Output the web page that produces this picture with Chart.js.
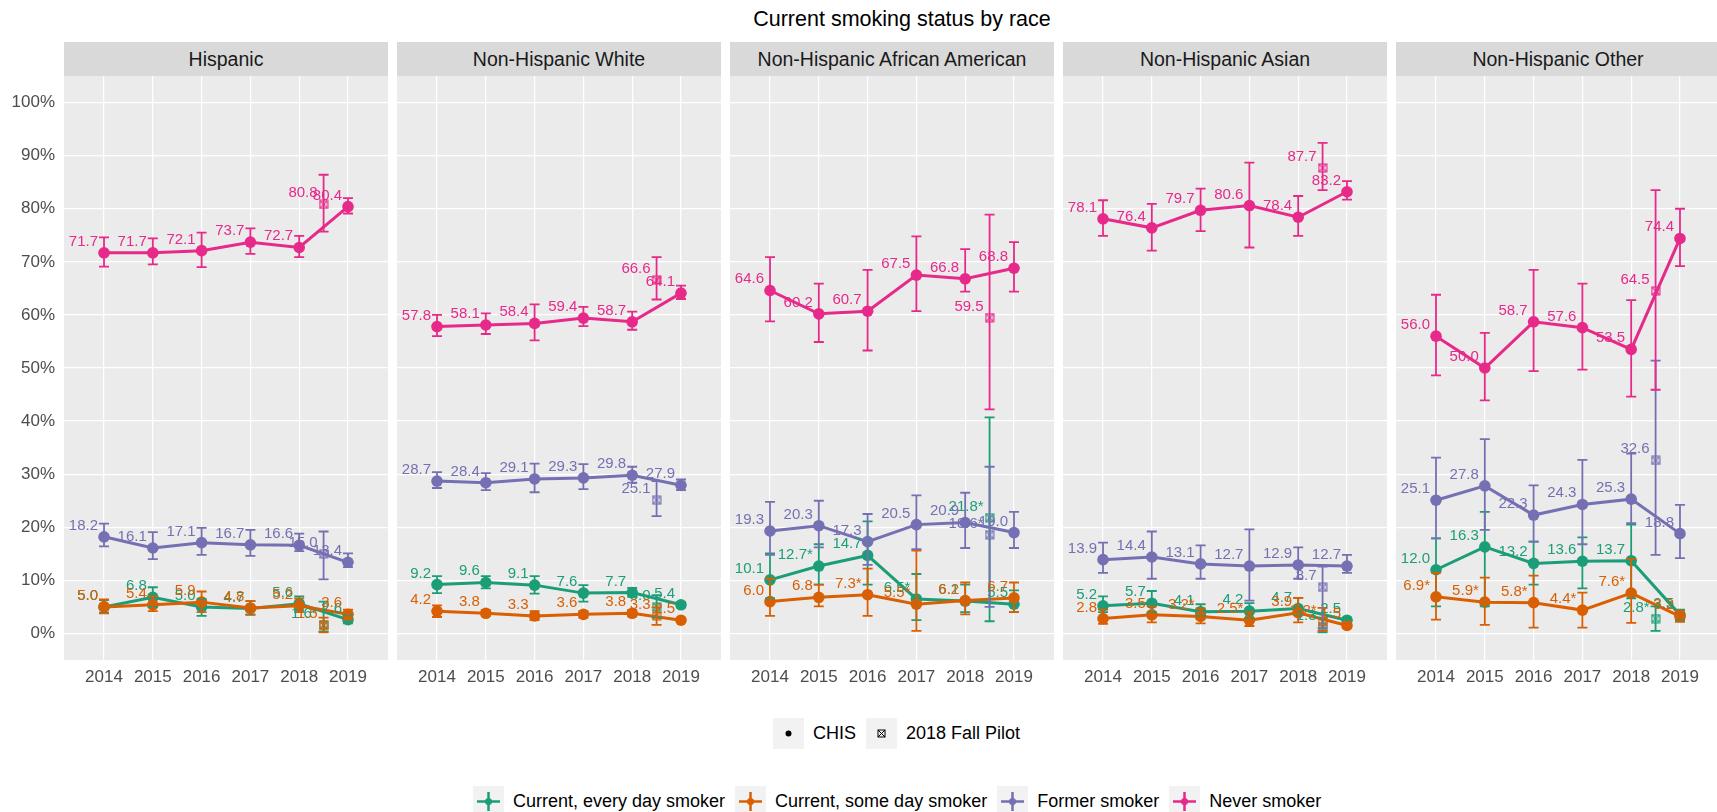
<!DOCTYPE html>
<html>
<head>
<meta charset="utf-8">
<title>Current smoking status by race</title>
<script src="https://cdn.jsdelivr.net/npm/chart.js@4.4.1/dist/chart.umd.min.js"></script>
<style>
  html, body { margin: 0; padding: 0; background: #fff; width: 1717px; height: 812px; overflow: hidden;
    font-family: "Liberation Sans", Arial, sans-serif; }
  #title { position: absolute; left: 402px; width: 1000px; top: 7px; text-align: center; font-size: 21.5px; color: #000; }
  .strip { position: absolute; top: 42px; height: 34px; width: 324px; background: #D9D9D9; color: #1A1A1A;
    font-size: 19.5px; line-height: 34px; text-align: center; white-space: nowrap; }
  .panel { position: absolute; top: 76px; height: 624px; }
  .legend { position: absolute; display: flex; align-items: center; font-size: 18px; color: #000; white-space: nowrap; }
  .key { width: 31px; height: 31px; background: #F2F2F2; margin-right: 9px; display: block; }
  .legend span.txt { margin-right: 10px; }
</style>
</head>
<body>
<div id="title">Current smoking status by race</div>
<div id="panels"></div>

<div class="legend" id="surveyLegend" style="left:773px; top:718px;"></div>
<div class="legend" id="statusLegend" style="left:473px; top:786px;"></div>

<script>
// ---- categories ----
const years = [2014, 2015, 2016, 2017, 2018, 2019];
const pilotYear = 2018.5;
const races = ['Hispanic', 'Non-Hispanic White', 'Non-Hispanic African American', 'Non-Hispanic Asian', 'Non-Hispanic Other'];
const statuses = ['Current, every day smoker', 'Current, some day smoker', 'Former smoker', 'Never smoker'];
const surveys = ['CHIS', '2018 Fall Pilot'];
const yTicks = [0, 10, 20, 30, 40, 50, 60, 70, 80, 90, 100];

// ---- estimates (%) : one row per status, one column per year ----
// star flag = estimate marked with an asterisk
const hispanicEst  = [[5.0, 6.8, 5.0, 4.7, 5.6, 2.6], [5.0, 5.4, 5.9, 4.8, 5.2, 3.6], [18.2, 16.1, 17.1, 16.7, 16.6, 13.4], [71.7, 71.7, 72.1, 73.7, 72.7, 80.4]];
const hispanicLow  = [[3.9, 5.0, 3.3, 3.5, 4.3, 1.9], [3.8, 4.2, 4.0, 3.6, 4.0, 2.6], [16.4, 14.0, 14.8, 14.6, 15.5, 12.5], [69.1, 69.5, 69.0, 71.5, 70.9, 79.1]];
const hispanicHigh = [[6.3, 8.7, 6.5, 6.1, 7.0, 3.4], [6.4, 7.0, 7.9, 6.1, 6.6, 4.5], [20.7, 19.1, 19.9, 19.5, 18.8, 15.1], [74.6, 74.4, 75.5, 76.3, 74.9, 82.0]];
const hispanicStar = [[0, 0, 0, 0, 0, 0], [0, 0, 0, 0, 0, 0], [0, 0, 0, 0, 0, 0], [0, 0, 0, 0, 0, 0]];
const hispanicPilot     = [1.6, 1.5, 15.0, 80.8];
const hispanicPilotLow  = [0.4, 0.2, 10.2, 75.7];
const hispanicPilotHigh = [6.0, 3.0, 19.2, 86.4];
const hispanicPilotStar = [1, 0, 0, 0];

const whiteEst  = [[9.2, 9.6, 9.1, 7.6, 7.7, 5.4], [4.2, 3.8, 3.3, 3.6, 3.8, 2.5], [28.7, 28.4, 29.1, 29.3, 29.8, 27.9], [57.8, 58.1, 58.4, 59.4, 58.7, 64.1]];
const whiteLow  = [[7.6, 8.5, 7.5, 6.0, 6.9, 4.9], [3.1, 3.3, 2.5, 3.0, 3.2, 2.1], [27.4, 27.0, 26.6, 27.2, 28.4, 27.0], [56.0, 56.4, 55.2, 57.9, 57.2, 63.0]];
const whiteHigh = [[10.8, 10.8, 10.8, 9.1, 8.6, 5.9], [5.3, 4.4, 4.2, 4.2, 4.4, 2.9], [30.4, 30.2, 32.0, 31.9, 31.4, 29.0], [60.0, 60.3, 62.0, 61.5, 60.6, 65.5]];
const whiteStar = [[0, 0, 0, 0, 0, 0], [0, 0, 0, 0, 0, 0], [0, 0, 0, 0, 0, 0], [0, 0, 0, 0, 0, 0]];
const whitePilot     = [5.0, 3.3, 25.1, 66.6];
const whitePilotLow  = [3.0, 1.6, 22.1, 62.9];
const whitePilotHigh = [7.2, 4.9, 28.7, 70.9];
const whitePilotStar = [0, 0, 0, 0];

const blackEst  = [[10.1, 12.7, 14.7, 6.5, 6.1, 5.5], [6.0, 6.8, 7.3, 5.5, 6.2, 6.7], [19.3, 20.3, 17.3, 20.5, 20.9, 19.0], [64.6, 60.2, 60.7, 67.5, 66.8, 68.8]];
const blackLow  = [[6.6, 9.2, 9.2, 2.5, 4.0, 4.0], [3.3, 5.1, 3.3, 0.5, 3.6, 4.0], [14.8, 16.2, 12.9, 15.9, 16.1, 16.1], [58.8, 54.9, 53.3, 60.7, 64.4, 64.4]];
const blackHigh = [[15.1, 16.8, 21.1, 11.2, 9.2, 8.1], [10.3, 9.2, 12.2, 15.6, 9.6, 9.6], [24.8, 25.0, 22.5, 26.0, 26.5, 22.9], [70.9, 65.9, 68.5, 74.8, 72.4, 73.7]];
const blackStar = [[0, 1, 0, 1, 0, 0], [0, 0, 1, 1, 0, 0], [0, 0, 0, 0, 0, 0], [0, 0, 0, 0, 0, 0]];
const blackPilot     = [21.8, null, 18.6, 59.5];
const blackPilotLow  = [2.3, null, 5.0, 42.2];
const blackPilotHigh = [40.7, null, 31.4, 78.9];
const blackPilotStar = [1, 0, 1, 0];

const asianEst  = [[5.2, 5.7, 4.1, 4.2, 4.7, 2.5], [2.8, 3.5, 3.2, 2.5, 3.9, 1.5], [13.9, 14.4, 13.1, 12.7, 12.9, 12.7], [78.1, 76.4, 79.7, 80.6, 78.4, 83.2]];
const asianLow  = [[4.0, 4.0, 3.3, 2.9, 3.5, 2.0], [1.8, 2.1, 1.9, 1.4, 2.1, 1.0], [11.4, 10.3, 10.3, 6.2, 10.3, 11.4], [74.9, 72.1, 75.8, 72.7, 74.9, 81.7]];
const asianHigh = [[7.0, 8.0, 5.5, 5.7, 6.7, 3.0], [4.5, 5.1, 4.7, 4.0, 6.7, 2.0], [17.1, 19.2, 16.6, 19.6, 16.2, 14.8], [81.6, 80.9, 83.8, 88.7, 82.4, 85.2]];
const asianStar = [[0, 0, 0, 0, 0, 0], [0, 0, 1, 1, 0, 0], [0, 0, 0, 0, 0, 0], [0, 0, 0, 0, 0, 0]];
const asianPilot     = [1.3, 2.2, 8.7, 87.7];
const asianPilotLow  = [0.2, 0.5, 1.0, 83.5];
const asianPilotHigh = [3.0, 4.8, 12.6, 92.4];
const asianPilotStar = [0, 1, 0, 0];

const otherEst  = [[12.0, 16.3, 13.2, 13.6, 13.7, 3.5], [6.9, 5.9, 5.8, 4.4, 7.6, 3.2], [25.1, 27.8, 22.3, 24.3, 25.3, 18.8], [56.0, 50.0, 58.7, 57.6, 53.5, 74.4]];
const otherLow  = [[5.1, 5.1, 9.2, 8.5, 6.6, 2.5], [2.6, 1.6, 1.1, 1.1, 2.0, 2.2], [17.9, 19.5, 17.3, 16.8, 20.8, 14.2], [48.6, 43.9, 49.4, 49.7, 44.6, 69.2]];
const otherHigh = [[17.9, 22.9, 17.3, 18.1, 20.5, 4.5], [11.4, 10.5, 10.9, 7.7, 14.0, 4.3], [33.1, 36.6, 27.9, 32.7, 33.9, 24.2], [63.8, 56.6, 68.5, 65.9, 62.8, 80.0]];
const otherStar = [[0, 0, 0, 0, 0, 0], [1, 1, 1, 1, 1, 0], [0, 0, 0, 0, 0, 0], [0, 0, 0, 0, 0, 0]];
const otherPilot     = [2.8, null, 32.6, 64.5];
const otherPilotLow  = [0.5, null, 14.8, 45.9];
const otherPilotHigh = [5.1, null, 51.4, 83.5];
const otherPilotStar = [1, 0, 0, 0];

// ---- styling ----
const statusColors = ['#1B9E77', '#D95F02', '#7570B3', '#E7298A'];
const FONT = '"Liberation Sans", Arial, sans-serif';
const panelLefts = [64, 397, 730, 1063, 1396];
const panelWidth = 324;
const plotHeight = 584;
const axisHeight = 40;
const yAxisWidth = 64;

const panelSeries = [
  [hispanicEst, hispanicLow, hispanicHigh, hispanicStar, hispanicPilot, hispanicPilotLow, hispanicPilotHigh, hispanicPilotStar],
  [whiteEst, whiteLow, whiteHigh, whiteStar, whitePilot, whitePilotLow, whitePilotHigh, whitePilotStar],
  [blackEst, blackLow, blackHigh, blackStar, blackPilot, blackPilotLow, blackPilotHigh, blackPilotStar],
  [asianEst, asianLow, asianHigh, asianStar, asianPilot, asianPilotLow, asianPilotHigh, asianPilotStar],
  [otherEst, otherLow, otherHigh, otherStar, otherPilot, otherPilotLow, otherPilotHigh, otherPilotStar]
];

// square-with-cross glyph used for the pilot survey points
function squareCross(color, size, lw) {
  const c = document.createElement('canvas');
  c.width = size; c.height = size;
  const g = c.getContext('2d');
  g.strokeStyle = color; g.lineWidth = lw;
  const a = lw / 2 + 0.5, b = size - lw / 2 - 0.5;
  g.strokeRect(a, a, b - a, b - a);
  g.beginPath();
  g.moveTo(a, a); g.lineTo(b, b);
  g.moveTo(b, a); g.lineTo(a, b);
  g.stroke();
  return c;
}

// panel background
const panelBg = {
  id: 'panelBg',
  beforeDraw(chart) {
    const {ctx, chartArea: a} = chart;
    ctx.save();
    ctx.fillStyle = '#EBEBEB';
    ctx.fillRect(a.left, a.top, a.right - a.left, a.bottom - a.top);
    ctx.restore();
  }
};

// error bars and value labels, placed through the chart scales
const errorsAndLabels = {
  id: 'errorsAndLabels',
  afterDatasetsDraw(chart) {
    const ctx = chart.ctx;
    const xs = chart.scales.x, ys = chart.scales.y;
    const metas = chart.getSortedVisibleDatasetMetas().slice().reverse();
    ctx.save();
    ctx.lineWidth = 1.8;
    ctx.lineCap = 'butt';
    metas.forEach(meta => {
      const ds = chart.data.datasets[meta.index];
      ctx.strokeStyle = ds.borderColor;
      ds.data.forEach((d, j) => {
        const lo = ds.errLow[j], hi = ds.errHigh[j];
        if (lo == null || hi == null) return;
        const px = xs.getPixelForValue(d.x);
        const yl = ys.getPixelForValue(lo), yh = ys.getPixelForValue(hi);
        ctx.beginPath();
        ctx.moveTo(px, yl); ctx.lineTo(px, yh);
        ctx.moveTo(px - 5, yl); ctx.lineTo(px + 5, yl);
        ctx.moveTo(px - 5, yh); ctx.lineTo(px + 5, yh);
        ctx.stroke();
      });
    });
    ctx.font = '15px ' + FONT;
    ctx.textAlign = 'right';
    ctx.textBaseline = 'alphabetic';
    metas.forEach(meta => {
      const ds = chart.data.datasets[meta.index];
      ctx.fillStyle = ds.borderColor;
      ds.data.forEach((d, j) => {
        const px = xs.getPixelForValue(d.x);
        const py = ys.getPixelForValue(d.y);
        ctx.fillText(d.y.toFixed(1) + (ds.stars[j] ? '*' : ''), px - 6, py - 7);
      });
    });
    ctx.restore();
  }
};

function buildPanel(i) {
  const [est, low, high, star, pilot, pilotLow, pilotHigh, pilotStar] = panelSeries[i];
  const first = i === 0;
  const left = first ? 0 : panelLefts[i];
  const width = first ? panelWidth + yAxisWidth : panelWidth;

  const strip = document.createElement('div');
  strip.className = 'strip';
  strip.style.left = panelLefts[i] + 'px';
  strip.textContent = races[i];
  document.body.appendChild(strip);

  const wrap = document.createElement('div');
  wrap.className = 'panel';
  wrap.style.left = left + 'px';
  wrap.style.width = width + 'px';
  const canvas = document.createElement('canvas');
  canvas.width = width; canvas.height = plotHeight + axisHeight;
  wrap.appendChild(canvas);
  document.getElementById('panels').appendChild(wrap);

  const datasets = [];
  statuses.forEach((s, k) => {
    datasets.push({
      type: 'line',
      label: s + ' (' + surveys[0] + ')',
      data: years.map((yr, j) => ({x: yr, y: est[k][j]})),
      errLow: low[k], errHigh: high[k], stars: star[k],
      borderColor: statusColors[k], backgroundColor: statusColors[k],
      borderWidth: 3, tension: 0,
      pointRadius: 5.8, pointHoverRadius: 5.8, pointBorderWidth: 0,
      pointBackgroundColor: statusColors[k],
      order: 20 - k
    });
    if (pilot[k] != null) {
      datasets.push({
        type: 'line',
        label: s + ' (' + surveys[1] + ')',
        data: [{x: pilotYear, y: pilot[k]}],
        errLow: [pilotLow[k]], errHigh: [pilotHigh[k]], stars: [pilotStar[k]],
        borderColor: statusColors[k], backgroundColor: statusColors[k],
        showLine: false,
        pointStyle: squareCross(statusColors[k], 10, 1.2),
        pointRadius: 5, pointHoverRadius: 5,
        order: 20 - k
      });
    }
  });

  new Chart(canvas, {
    data: {datasets},
    options: {
      responsive: false,
      animation: false,
      events: [],
      layout: {autoPadding: false, padding: 0},
      plugins: {legend: {display: false}, tooltip: {enabled: false}, title: {display: false}},
      scales: {
        x: {
          type: 'linear', min: 2013.18, max: 2019.82,
          afterBuildTicks: sc => { sc.ticks = years.map(v => ({value: v})); },
          afterFit: sc => { sc.height = axisHeight; sc.paddingLeft = 0; sc.paddingRight = 0; },
          grid: {color: '#FFFFFF', lineWidth: 1.2, drawTicks: false},
          border: {display: false},
          ticks: {color: '#4D4D4D', font: {family: FONT, size: 17}, padding: 7, maxRotation: 0,
                  autoSkip: false, callback: v => String(v)}
        },
        y: {
          type: 'linear', min: -5, max: 105,
          afterBuildTicks: sc => { sc.ticks = yTicks.map(v => ({value: v})); },
          afterFit: sc => { sc.width = first ? yAxisWidth : 0; sc.paddingTop = 0; sc.paddingBottom = 0; },
          grid: {color: '#FFFFFF', lineWidth: 1.2, drawTicks: false},
          border: {display: false},
          ticks: {display: first, color: '#4D4D4D', font: {family: FONT, size: 17}, padding: 9,
                  autoSkip: false, callback: v => v + '%'}
        }
      }
    },
    plugins: [panelBg, errorsAndLabels]
  });
}

races.forEach((r, i) => buildPanel(i));

// ---- legends ----
function svgKey(inner) {
  return '<svg class="key" viewBox="0 0 31 31" width="31" height="31">' + inner + '</svg>';
}
const surveyKeys = [
  '<circle cx="15.5" cy="15.5" r="3" fill="#000"/>',
  '<rect x="12" y="12" width="7" height="7" fill="none" stroke="#000" stroke-width="1"/>' +
  '<path d="M12 12 L19 19 M19 12 L12 19" stroke="#000" stroke-width="1"/>'
];
document.getElementById('surveyLegend').innerHTML = surveys.map((s, i) =>
  svgKey(surveyKeys[i]) + '<span class="txt">' + s + '</span>').join('');

document.getElementById('statusLegend').innerHTML = statuses.map((s, k) =>
  svgKey('<path d="M4 15.5 H27 M15.5 6 V25" stroke="' + statusColors[k] + '" stroke-width="2.5"/>' +
         '<circle cx="15.5" cy="15.5" r="3.5" fill="' + statusColors[k] + '"/>') +
  '<span class="txt">' + s + '</span>').join('');
</script>
</body>
</html>
